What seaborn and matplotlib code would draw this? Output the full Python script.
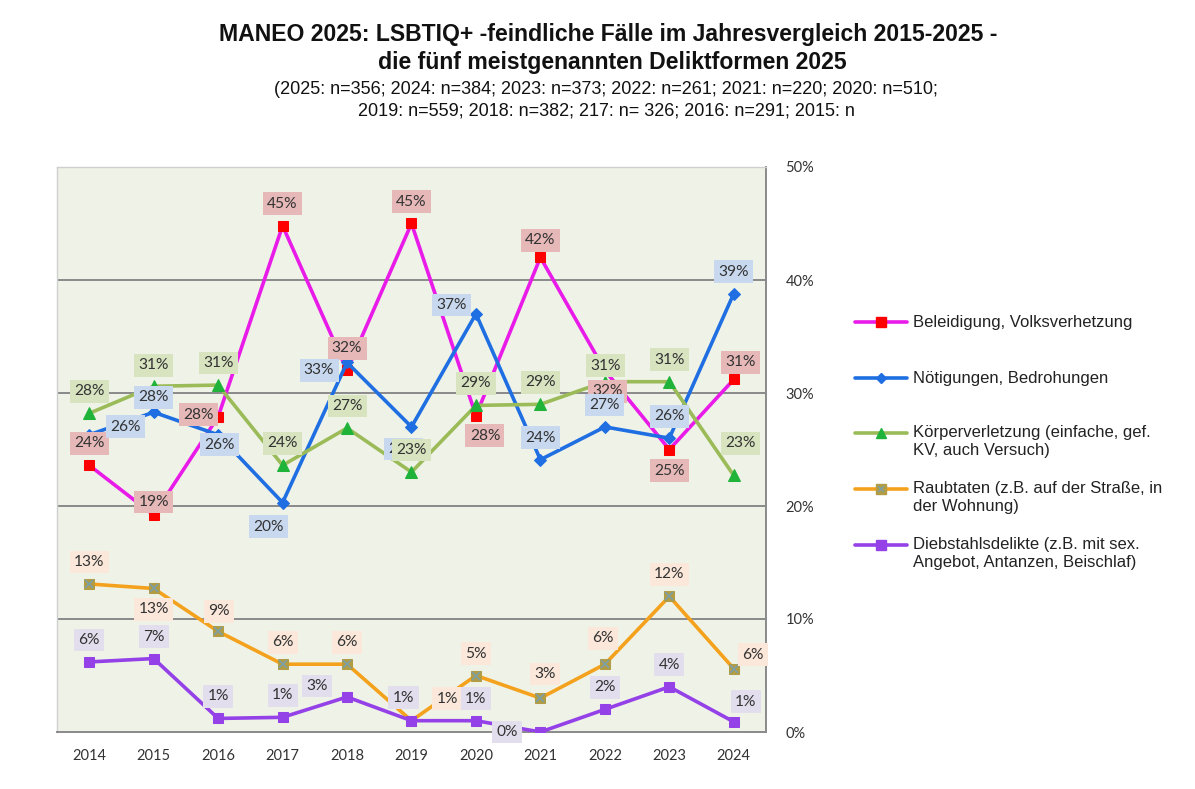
import matplotlib
matplotlib.use("Agg")
import matplotlib.pyplot as plt
from matplotlib.lines import Line2D
import seaborn as sns

# Daten (Anteile in %)
jahre = [2014, 2015, 2016, 2017, 2018, 2019, 2020, 2021, 2022, 2023, 2024]
beleidigung = [23.6, 19.2, 27.9, 44.8, 32.0, 45.0, 28.0, 42.0, 32.0, 25.0, 31.2]
noetigung = [26.3, 28.3, 26.3, 20.3, 32.7, 27.0, 37.0, 24.1, 27.0, 26.0, 38.8]
koerperverl = [28.2, 30.6, 30.7, 23.6, 26.9, 23.0, 28.9, 29.0, 31.0, 31.0, 22.7]
raub = [13.1, 12.7, 8.9, 6.0, 6.0, 1.0, 5.0, 3.0, 6.0, 12.0, 5.6]
diebstahl = [6.2, 6.5, 1.2, 1.3, 3.1, 1.0, 1.0, 0.0, 2.0, 4.0, 0.9]

lab_beleidigung = ["24%", "19%", "28%", "45%", "32%", "45%", "28%", "42%", "32%", "25%", "31%"]
lab_noetigung = ["26%", "28%", "26%", "20%", "33%", "27%", "37%", "24%", "27%", "26%", "39%"]
lab_koerperverl = ["28%", "31%", "31%", "24%", "27%", "23%", "29%", "29%", "31%", "31%", "23%"]
lab_raub = ["13%", "13%", "9%", "6%", "6%", "1%", "5%", "3%", "6%", "12%", "6%"]
lab_diebstahl = ["6%", "7%", "1%", "1%", "3%", "1%", "1%", "0%", "2%", "4%", "1%"]

namen = [["Beleidigung, Volksverhetzung"],
         ["Nötigungen, Bedrohungen"],
         ["Körperverletzung (einfache, gef.", "KV, auch Versuch)"],
         ["Raubtaten (z.B. auf der Straße, in", "der Wohnung)"],
         ["Diebstahlsdelikte (z.B. mit sex.", "Angebot, Antanzen, Beischlaf)"]]

# Label-Versatz in Pixel (dx, dy nach oben), Standard = direkt drüber
UP = (0, 22)
off_beleidigung = [UP, (0, 13), (-20, 2), UP, UP, UP, (9, -20), (0, 17), (3, -21), (0, -21), (7, 17)]
off_noetigung = [(36, 8), (0, 15), (1, -10), (-14, -24), (-28, -8), (-8, -22), (-24, 9), UP, UP, UP, UP]
off_koerperverl = [UP, (0, 21), (0, 22), UP, UP, UP, UP, UP, (1, 16), UP, (7, 32)]
off_raub = [UP, (0, -21), (1, 20), UP, UP, (36, 22), UP, (5, 24), (-2, 26), UP, (19, 14)]
off_diebstahl = [UP, UP, UP, UP, (-30, 11), (-8, 23), UP, (-33, 0), UP, UP, (12, 20)]

sns.set_theme(style="white")
plt.rcParams["font.family"] = ["Liberation Sans", "DejaVu Sans"]

fig = plt.figure(figsize=(11.95, 7.89), dpi=100)
W, H = 1195, 789
ax = fig.add_axes([57 / W, 1 - 732 / H, (766 - 57) / W, (732 - 167) / H])
ax.set_facecolor("#eff3e7")

serien = [
    (beleidigung, lab_beleidigung, off_beleidigung, "#e81be8", "s", "#ff0000", "#e6b9b8"),
    (noetigung, lab_noetigung, off_noetigung, "#1f6fe3", "D", "#1f6fe3", "#c8d9ef"),
    (koerperverl, lab_koerperverl, off_koerperverl, "#9bbb59", "^", "#1fb33a", "#d8e3c0"),
    (raub, lab_raub, off_raub, "#f4a21d", "s", "#b29c44", "#fbe8da"),
    (diebstahl, lab_diebstahl, off_diebstahl, "#9441e8", "s", "#9441e8", "#e2deed"),
]
msize = {"s": 7.5, "D": 6, "^": 8}

for i, (werte, labs, offs, lc, mk, mc, bc) in enumerate(serien):
    sns.lineplot(x=jahre, y=werte, ax=ax, color=lc, linewidth=2.6, marker=mk,
                 markersize=msize[mk], markerfacecolor=mc, markeredgecolor=mc,
                 zorder=3 + i)
    if i == 3:
        # Raubtaten: Kreuz im Quadrat
        ax.plot(jahre, werte, linestyle="none", marker="x", markersize=6,
                markeredgecolor="#7d9fa8", markeredgewidth=1.2, zorder=3 + i)

for i, (werte, labs, offs, lc, mk, mc, bc) in enumerate(serien):
    for x, y, t, (dx, dy) in zip(jahre, werte, labs, offs):
        ax.annotate(t, (x, y), xytext=(dx * 0.72, dy * 0.72), textcoords="offset points",
                    ha="center", va="center", fontsize=11.2, color="#333333",
                    family=["Lato", "DejaVu Sans"],
                    bbox=dict(boxstyle="square,pad=0.28", fc=bc, ec="none"),
                    zorder=10 + i)

ax.set_xlim(2013.5, 2024.5)
ax.set_ylim(0, 50)
ax.set_xticks(jahre)
ax.set_xticklabels([str(j) for j in jahre], family=["Lato", "DejaVu Sans"])
ax.set_yticks([0, 10, 20, 30, 40, 50])
ax.set_yticklabels([f"{v}%" for v in range(0, 51, 10)], family=["Lato", "DejaVu Sans"])
ax.yaxis.tick_right()
ax.tick_params(axis="both", length=0, labelsize=10.5, colors="#333333")
ax.tick_params(axis="y", pad=14)
ax.tick_params(axis="x", pad=12)
for y in [10, 20, 30, 40]:
    ax.axhline(y, color="#8a8a8a", linewidth=1.4, zorder=1)
for s in ["left", "top"]:
    ax.spines[s].set_color("#cfcfcf")
    ax.spines[s].set_linewidth(1.0)
for s in ["right", "bottom"]:
    ax.spines[s].set_color("#8a8a8a")
    ax.spines[s].set_linewidth(1.4)
ax.set_xlabel("")
ax.set_ylabel("")

# Titel
fig.text(608 / W, 1 - 35 / H, "MANEO 2025: LSBTIQ+ -feindliche Fälle im Jahresvergleich 2015-2025 -",
         ha="center", va="center", fontsize=16.6, fontweight="bold", color="#111111")
fig.text(612 / W, 1 - 62 / H, "die fünf meistgenannten Deliktformen 2025",
         ha="center", va="center", fontsize=16.6, fontweight="bold", color="#111111")
fig.text(606 / W, 1 - 90 / H,
         "(2025: n=356; 2024: n=384; 2023: n=373; 2022: n=261; 2021: n=220; 2020: n=510;",
         ha="center", va="center", fontsize=13, color="#111111")
fig.text(606 / W, 1 - 111 / H, "2019: n=559; 2018: n=382; 217: n= 326; 2016: n=291; 2015: n",
         ha="center", va="center", fontsize=13, color="#111111")

# Legende (manuell)
leg_y = [322, 378, 433, 489, 545]
for (werte, labs, offs, lc, mk, mc, bc), zeilen, y in zip(serien, namen, leg_y):
    yy = 1 - y / H
    fig.add_artist(Line2D([855 / W, 881 / W, 907 / W], [yy, yy, yy], color=lc, linewidth=2.6,
                          marker=mk, markersize=msize[mk] * 0.9, markerfacecolor=mc,
                          markeredgecolor=mc, markevery=[1]))
    if mk == "s" and mc == "#b29c44":
        fig.add_artist(Line2D([881 / W], [yy], linestyle="none", marker="x", markersize=5,
                              markeredgecolor="#7d9fa8", markeredgewidth=1.1))
    for k, z in enumerate(zeilen):
        fig.text(913 / W, 1 - (y + 17 * k) / H, z, ha="left", va="center", fontsize=12,
                 color="#222222")

fig.savefig("out.png", dpi=100)
